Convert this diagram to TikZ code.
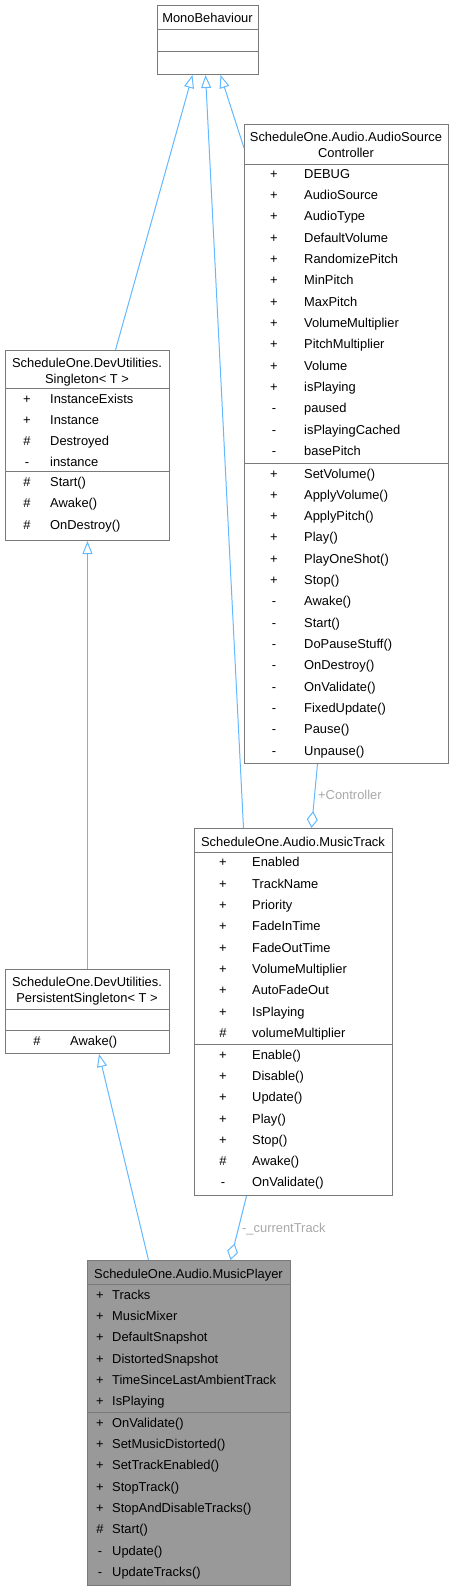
\documentclass[tikz,border=0pt]{standalone}
\usepackage{fontspec}
\setmainfont{Liberation Sans}
\usepackage{tikz}
\usetikzlibrary{arrows.meta}
\definecolor{boxgray}{HTML}{7A7A7A}
\definecolor{edgeblue}{HTML}{63B8FF}
\definecolor{labelgray}{HTML}{A8A8A8}
\definecolor{mainfill}{HTML}{999999}

\begin{document}
\begin{tikzpicture}[x=1pt, y=-1pt,
    font=\fontsize{12.9}{15.5}\selectfont,
    classbox/.style={draw=boxgray, line width=1pt, fill=white, inner sep=0pt, anchor=north west},
    divider/.style={boxgray, line width=1pt},
    ttl/.style={inner sep=0pt, anchor=base},
    sym/.style={inner sep=0pt, anchor=base},
    txt/.style={inner sep=0pt, anchor=base west},
    inherit/.style={edgeblue, line width=1pt, -{Triangle[open,length=13pt,width=10pt]}},
    aggr/.style={edgeblue, line width=1pt, -{Diamond[open,length=17pt,width=11pt]}},
    role/.style={labelgray, inner sep=0pt, anchor=base west}]
\useasboundingbox (0,0) rectangle (454,1591);

% MonoBehaviour
\node[classbox, minimum width=101pt, minimum height=69pt] (mono) at (157,5) {};
\draw[divider] (157,29) -- (258,29) (157,51) -- (258,51);
\node[ttl] (mono-t) at (207.5,22.7) {MonoBehaviour};

% Singleton
\node[classbox, minimum width=164pt, minimum height=190pt] (single) at (5,350) {};
\draw[divider] (5,388) -- (169,388) (5,471) -- (169,471);
\node[ttl] (single-t1) at (87,367) {ScheduleOne.DevUtilities.};
\node[ttl] (single-t2) at (87,383) {Singleton< T >};
\foreach \s/\n [count=\i] in {+/InstanceExists, +/Instance, \#/Destroyed, -/instance} {
    \node[sym] (single-s\i) at (27,{403+21.2*(\i-1)}) {\s};
    \node[txt] (single-a\i) at (50,{403+21.2*(\i-1)}) {\n};
}
\foreach \s/\n [count=\i] in {\#/Start(), \#/Awake(), \#/OnDestroy()} {
    \node[sym] (single-p\i) at (27,{486.7+21.2*(\i-1)}) {\s};
    \node[txt] (single-m\i) at (50,{486.7+21.2*(\i-1)}) {\n};
}

% AudioSourceController
\node[classbox, minimum width=204pt, minimum height=639pt] (asc) at (244,124) {};
\draw[divider] (244,164) -- (448,164) (244,463) -- (448,463);
\node[ttl] (asc-t1) at (346,141.7) {ScheduleOne.Audio.AudioSource};
\node[ttl] (asc-t2) at (346,157.3) {Controller};
\foreach \s/\n [count=\i] in {+/DEBUG, +/AudioSource, +/AudioType, +/DefaultVolume,
    +/RandomizePitch, +/MinPitch, +/MaxPitch, +/VolumeMultiplier, +/PitchMultiplier,
    +/Volume, +/isPlaying, -/paused, -/isPlayingCached, -/basePitch} {
    \node[sym] (asc-s\i) at (274,{178.3+21.33*(\i-1)}) {\s};
    \node[txt] (asc-a\i) at (304,{178.3+21.33*(\i-1)}) {\n};
}
\foreach \s/\n [count=\i] in {+/SetVolume(), +/ApplyVolume(), +/ApplyPitch(), +/Play(),
    +/PlayOneShot(), +/Stop(), -/Awake(), -/Start(), -/DoPauseStuff(), -/OnDestroy(),
    -/OnValidate(), -/FixedUpdate(), -/Pause(), -/Unpause()} {
    \node[sym] (asc-p\i) at (274,{478+21.33*(\i-1)}) {\s};
    \node[txt] (asc-m\i) at (304,{478+21.33*(\i-1)}) {\n};
}

% MusicTrack
\node[classbox, minimum width=198pt, minimum height=367pt] (track) at (194,828) {};
\draw[divider] (194,852) -- (392,852) (194,1044) -- (392,1044);
\node[ttl] (track-t) at (293,846) {ScheduleOne.Audio.MusicTrack};
\foreach \s/\n [count=\i] in {+/Enabled, +/TrackName, +/Priority, +/FadeInTime,
    +/FadeOutTime, +/VolumeMultiplier, +/AutoFadeOut, +/IsPlaying, \#/volumeMultiplier} {
    \node[sym] (track-s\i) at (223,{866.7+21.33*(\i-1)}) {\s};
    \node[txt] (track-a\i) at (252,{866.7+21.33*(\i-1)}) {\n};
}
\foreach \s/\n [count=\i] in {+/Enable(), +/Disable(), +/Update(), +/Play(), +/Stop(),
    \#/Awake(), -/OnValidate()} {
    \node[sym] (track-p\i) at (223,{1059+21.33*(\i-1)}) {\s};
    \node[txt] (track-m\i) at (252,{1059+21.33*(\i-1)}) {\n};
}

% PersistentSingleton
\node[classbox, minimum width=164pt, minimum height=84pt] (persist) at (5,969) {};
\draw[divider] (5,1009) -- (169,1009) (5,1030) -- (169,1030);
\node[ttl] (persist-t1) at (87,986) {ScheduleOne.DevUtilities.};
\node[ttl] (persist-t2) at (87,1002) {PersistentSingleton< T >};
\node[sym] (persist-p1) at (37,1045) {\#};
\node[txt] (persist-m1) at (70,1045) {Awake()};

% MusicPlayer
\node[classbox, fill=mainfill, minimum width=203pt, minimum height=325pt] (player) at (87,1260) {};
\draw[divider] (87,1284) -- (290,1284) (87,1412) -- (290,1412);
\node[ttl] (player-t) at (188.5,1278) {ScheduleOne.Audio.MusicPlayer};
\foreach \s/\n [count=\i] in {+/Tracks, +/MusicMixer, +/DefaultSnapshot,
    +/DistortedSnapshot, +/TimeSinceLastAmbientTrack, +/IsPlaying} {
    \node[sym] (player-s\i) at (100,{1299+21.33*(\i-1)}) {\s};
    \node[txt] (player-a\i) at (112,{1299+21.33*(\i-1)}) {\n};
}
\foreach \s/\n [count=\i] in {+/OnValidate(), +/SetMusicDistorted(), +/SetTrackEnabled(),
    +/StopTrack(), +/StopAndDisableTracks(), \#/Start(), -/Update(), -/UpdateTracks()} {
    \node[sym] (player-p\i) at (100,{1427+21.33*(\i-1)}) {\s};
    \node[txt] (player-m\i) at (112,{1427+21.33*(\i-1)}) {\n};
}

% connectors
\draw[inherit] ([xshift=28pt]single.north) -- ([xshift=-15.5pt]mono.south);
\draw[inherit] ([xshift=-50pt]track.north) -- ([xshift=-2.5pt]mono.south);
\draw[inherit] ([yshift=-24pt]asc.north west) -- ([xshift=12.5pt]mono.south);
\draw[inherit] (persist.north) -- (single.south);
\draw[inherit] ([xshift=-40.5pt]player.north) -- ([xshift=11.5pt]persist.south);
\draw[aggr] ([xshift=-29pt]asc.south) -- ([xshift=18pt]track.north);
\draw[aggr] ([xshift=-47pt]track.south) -- ([xshift=41.5pt]player.north);
\node[role] (ctrl-lbl) at (318,799) {+Controller};
\node[role] (cur-lbl) at (242,1232) {-\_currentTrack};
\end{tikzpicture}
\end{document}
